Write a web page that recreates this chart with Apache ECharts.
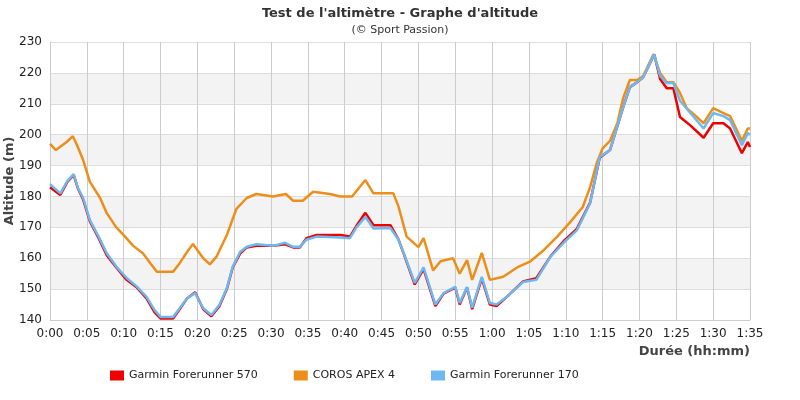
<!DOCTYPE html>
<html><head><meta charset="utf-8">
<script src="https://cdn.jsdelivr.net/npm/echarts@6/dist/echarts.min.js"></script>
<style>html,body{margin:0;padding:0;background:#fff}#c{width:800px;height:400px}</style>
</head><body><div id="c"></div>
<script>
const seriesNames = ['Garmin Forerunner 570', 'COROS APEX 4', 'Garmin Forerunner 170'];
const blueT = [0,0.2,1.4,2.3,3.2,3.8,4.5,5.4,6.6,7.7,9,10.4,11.8,13.1,14.2,15,16.7,17.6,18.6,19.7,20.8,21.9,23,24,24.8,25.8,26.7,28,30.3,31.9,33,33.9,34.8,36.2,39.4,40.7,41.6,42.8,43.9,46.2,47.3,48,49.5,50.7,52.3,53.4,55,55.6,56.6,57.3,58.6,59.7,60.6,62,64.2,66,67.9,69.7,71.5,73.3,74.6,76,77.8,78.7,79.7,80.5,82,82.8,83.7,84.6,85.5,86.9,88.7,90,91.4,92.3,93.9,94.7,95];
const blueV = [184,183.7,181,184.8,187.2,182.7,179.5,172.4,167,161.6,157.3,153.6,150.8,147.5,143.2,141,141,143.8,147,148.7,143.8,141.6,144.9,150.3,157.3,162,163.7,164.5,164,165,163.7,163.7,166,167,166.7,166.5,170,173.4,169.6,169.8,166,161.7,152,157,145,148.7,150.7,145.5,150.7,144,154,145.5,145,147.5,152.3,153,160.4,165,169,177.8,192.8,195,209,215.4,217,218.6,226,219,216.7,216.7,211,207,202,207,206,204.7,196.6,200.5,200];
const redT = blueT;
const redV = [183,182.7,180.5,184.5,187,182.5,179,172,166.5,161,157,153,150.5,147,142.5,140.5,140.5,143.5,147,149,143.5,141.2,144.5,150,157,161.5,163.5,164,164,164.5,163.5,163.5,166.5,167.5,167.5,167,170.5,174.7,170.7,170.7,166,161.5,151.5,156.5,144.5,148.5,150.5,145,150.5,143.5,153.5,145,144.5,147.5,152.5,153.5,160.5,165.5,169.5,178,192.5,195,209,215.4,217,218.6,226,218,215,215,205.7,203,199,203.7,203.7,202,194,197.6,196];
const orangeT = [0,0.2,0.8,2.3,3.1,3.6,4.5,5.4,6.8,7.7,9,10,11.3,12.6,13.8,14.5,16.7,17.6,18.6,19.4,20.8,21.7,22.6,24,25.3,26.7,28,30.3,32,33,34.3,35.7,38,39.4,41,42.8,43.9,46.6,47.3,48.4,50,50.7,52,53,54.7,55.6,56.6,57.3,58.6,59.7,61.5,63.4,65.2,67,68.8,70.6,72.3,73.3,74.2,75,76,77,77.8,78.7,79.7,80.5,81.9,82.8,83.7,84.6,85.5,86.4,87.8,88.7,90,91.4,92.3,93.9,94.7,95];
const orangeV = [197,196.6,195,197.7,199.5,197,191.8,184.8,179.5,174.6,170,167.5,164,161.6,157.8,155.6,155.6,158.4,162,164.6,160,158,160.5,167.5,176,179.5,180.8,180,180.8,178.6,178.6,181.5,180.8,180,180,185.3,181,181,176.7,167,163.6,166.5,156,159,160,155,159.4,153,161.7,153,154,157,159,162.6,166.9,171.7,176.6,183,190.8,195.6,198,203.7,212,217.7,217.7,219,226,220,217,217,213.5,208.6,205.7,203.7,208.6,207,206,198,202,202];
const colors = ['#ee0000', '#ee8e1a', '#6cb8f0'];
const zip = (t, v) => t.map((x, i) => [x, v[i]]);
const chart = echarts.init(document.getElementById('c'));
const fmt = m => Math.floor(m/60) + ':' + String(m%60).padStart(2,'0');
const ff = 'DejaVu Sans';
chart.setOption({
  animation: false,
  textStyle: {fontFamily: ff},
  title: {text: "Test de l'altimètre - Graphe d'altitude", subtext: '(© Sport Passion)', left: 'center', top: 2,
    textStyle: {fontSize: 13, fontWeight: 'bold', color: '#333', fontFamily: ff},
    subtextStyle: {fontSize: 11, color: '#333', fontFamily: ff}, itemGap: 5},
  legend: {bottom: 14, left: 105, itemWidth: 14, itemHeight: 10, itemGap: 36, icon: 'rect',
    textStyle: {fontSize: 11, color: '#222', fontFamily: ff}, data: seriesNames},
  graphic: [{type: 'text', x: 3, y: 181, rotation: Math.PI / 2,
    style: {text: 'Altitude (m)', font: 'bold 13px "DejaVu Sans"', fill: '#444', align: 'center', verticalAlign: 'top'}}],
  grid: {left: 50, right: 50, top: 42, bottom: 80, containLabel: false, outerBoundsMode: 'none'},
  xAxis: {type: 'value', min: 0, max: 95, interval: 5, name: 'Durée (hh:mm)', nameLocation: 'end',
    nameGap: 0, nameTextStyle: {fontWeight: 'bold', fontSize: 13, color: '#444', align: 'right', verticalAlign: 'top', padding: [25, 0, 0, 0]},
    axisLine: {lineStyle: {color: '#ccc'}}, axisTick: {show: false},
    axisLabel: {formatter: v => fmt(v), color: '#222', fontSize: 12},
    splitLine: {show: true, lineStyle: {color: '#ccc'}}},
  yAxis: {type: 'value', min: 140, max: 230, interval: 10,
    axisLine: {show: true, lineStyle: {color: '#ccc'}}, axisTick: {show: false},
    axisLabel: {color: '#222', fontSize: 12},
    splitLine: {lineStyle: {color: '#ddd'}},
    splitArea: {show: true, areaStyle: {color: ['#ffffff', '#f3f3f3']}}},
  series: [
    {name: seriesNames[0], type: 'line', showSymbol: false, data: zip(redT, redV), color: colors[0], lineStyle: {width: 2.5}, z: 2},
    {name: seriesNames[1], type: 'line', showSymbol: false, data: zip(orangeT, orangeV), color: colors[1], lineStyle: {width: 2.5}, z: 3},
    {name: seriesNames[2], type: 'line', showSymbol: false, data: zip(blueT, blueV), color: colors[2], lineStyle: {width: 2.5}, z: 4}
  ]
});
</script></body></html>
